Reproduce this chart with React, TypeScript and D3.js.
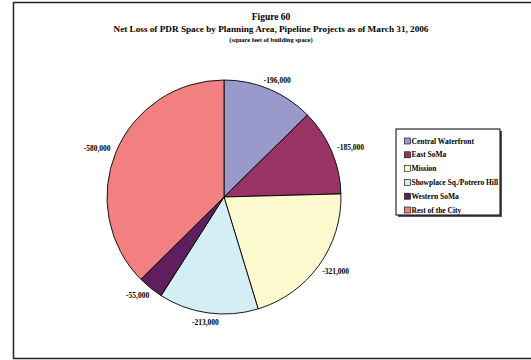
import React, { useEffect, useRef } from 'react';
import * as d3 from 'd3';

const areas = ["Central Waterfront", "East SoMa", "Mission", "Showplace Sq./Potrero Hill", "Western SoMa", "Rest of the City"];
const losses = [-196000, -185000, -321000, -213000, -55000, -580000];
const colors = ["#9999CC", "#993366", "#FDF9CF", "#D3EEF4", "#5F1F5F", "#F28080"];
const titleLines = ["Figure 60", "Net Loss of PDR Space by Planning Area, Pipeline Projects as of March 31, 2006"];
const subtitle = "(square feet of building space)";

const App: React.FC = () => {
  const svgRef = useRef<SVGSVGElement>(null);

  useEffect(() => {
    const svg = d3.select(svgRef.current);
    svg.selectAll('*').remove();
    const font = '"Liberation Serif", "Times New Roman", serif';

    // outer frame (right edge is off the page)
    svg.append('path')
      .attr('d', 'M545,2.5 L13.5,2.5 L13.5,358.5 L545,358.5')
      .attr('fill', 'none')
      .attr('stroke', '#222')
      .attr('stroke-width', 1.5);

    // titles
    const tx = 271;
    svg.append('text').attr('x', tx).attr('y', 20).attr('text-anchor', 'middle')
      .attr('font-family', font).attr('font-weight', 'bold').attr('font-size', 9.5)
      .text(titleLines[0]);
    svg.append('text').attr('x', tx).attr('y', 32).attr('text-anchor', 'middle')
      .attr('font-family', font).attr('font-weight', 'bold').attr('font-size', 9.2)
      .text(titleLines[1]);
    svg.append('text').attr('x', tx).attr('y', 42).attr('text-anchor', 'middle')
      .attr('font-family', font).attr('font-weight', 'bold').attr('font-size', 6.5)
      .text(subtitle);

    // pie
    const cx = 224, cy = 197, r = 117;
    const data = areas.map((name, i) => ({ name, value: losses[i], color: colors[i] }));
    const pie = d3.pie<typeof data[0]>().sort(null).value(d => Math.abs(d.value));
    const arcs = pie(data);
    const arc = d3.arc<d3.PieArcDatum<typeof data[0]>>().innerRadius(0).outerRadius(r);

    const g = svg.append('g').attr('transform', `translate(${cx},${cy})`);
    g.selectAll('path.slice')
      .data(arcs)
      .join('path')
      .attr('class', 'slice')
      .attr('d', arc)
      .attr('fill', d => d.data.color)
      .attr('stroke', '#000')
      .attr('stroke-width', 0.9);

    // labels: the box edge sits just outside the rim, pushed outward by its own half size
    const fmt = d3.format(',');
    const labelR = 123;
    const halfW = 14.5, halfH = 4;
    g.selectAll('text.lbl')
      .data(arcs)
      .join('text')
      .attr('class', 'lbl')
      .attr('transform', d => {
        const a = (d.startAngle + d.endAngle) / 2;
        const s = Math.sin(a), c = Math.cos(a);
        return `translate(${s * (labelR + halfW)},${-c * (labelR + halfH)})`;
      })
      .attr('text-anchor', 'middle')
      .attr('dy', '0.35em')
      .attr('font-family', font)
      .attr('font-weight', 'bold')
      .attr('font-size', 7.5)
      .text(d => '-' + fmt(Math.abs(d.data.value)));

    // legend
    const lx = 396, ly = 129, lw = 104, lh = 86;
    svg.append('rect').attr('x', lx + 2).attr('y', ly + 2).attr('width', lw).attr('height', lh).attr('fill', '#555');
    svg.append('rect').attr('x', lx).attr('y', ly).attr('width', lw).attr('height', lh)
      .attr('fill', '#fff').attr('stroke', '#000').attr('stroke-width', 1);
    const rowY = d3.scalePoint<string>().domain(areas).range([ly + 12, ly + 81]);
    const items = svg.append('g').selectAll('g').data(data).join('g')
      .attr('transform', d => `translate(${lx + 8.5},${rowY(d.name)})`);
    items.append('rect').attr('x', 0).attr('y', -3).attr('width', 6).attr('height', 6)
      .attr('fill', d => d.color).attr('stroke', '#000').attr('stroke-width', 0.6);
    items.append('text').attr('x', 7).attr('dy', '0.35em')
      .attr('font-family', font).attr('font-weight', 'bold').attr('font-size', 7.5)
      .text(d => d.name);
  }, []);

  return (
    <svg ref={svgRef} width={531} height={360}
      style={{ position: 'absolute', left: 0, top: 0, background: '#fff' }} />
  );
};

export default App;
